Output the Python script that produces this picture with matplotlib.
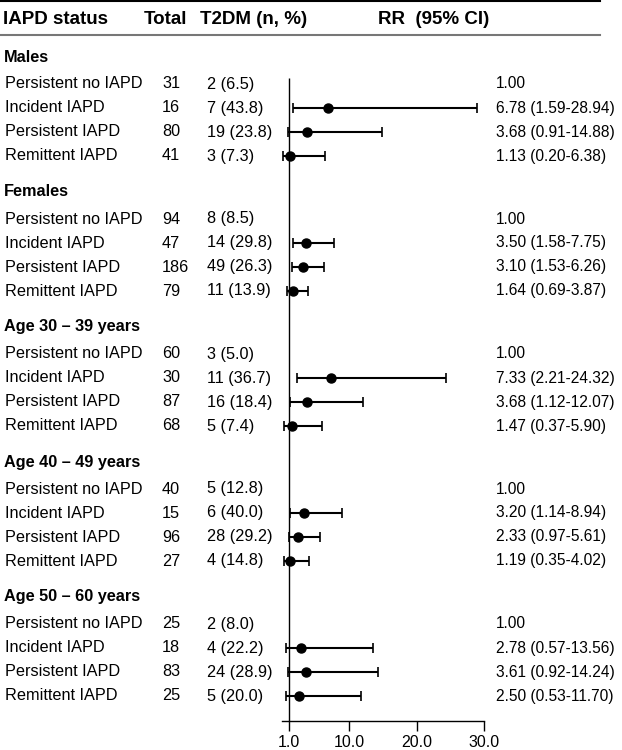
import matplotlib
matplotlib.use("Agg")
import matplotlib.pyplot as plt
import matplotlib.transforms as mtransforms

plt.rcParams['font.family'] = ['Liberation Sans', 'DejaVu Sans']

GROUPS = ["Males", "Females", "Age 30 \u2013 39 years", "Age 40 \u2013 49 years", "Age 50 \u2013 60 years"]
STATUS = ["Persistent no IAPD", "Incident IAPD", "Persistent IAPD", "Remittent IAPD"]

TOTALS = [
    [31, 16, 80, 41],
    [94, 47, 186, 79],
    [60, 30, 87, 68],
    [40, 15, 96, 27],
    [25, 18, 83, 25],
]
T2DM_N = [
    [2, 7, 19, 3],
    [8, 14, 49, 11],
    [3, 11, 16, 5],
    [5, 6, 28, 4],
    [2, 4, 24, 5],
]
T2DM_PCT = [
    [6.5, 43.8, 23.8, 7.3],
    [8.5, 29.8, 26.3, 13.9],
    [5.0, 36.7, 18.4, 7.4],
    [12.8, 40.0, 29.2, 14.8],
    [8.0, 22.2, 28.9, 20.0],
]
RR = [
    [1.00, 6.78, 3.68, 1.13],
    [1.00, 3.50, 3.10, 1.64],
    [1.00, 7.33, 3.68, 1.47],
    [1.00, 3.20, 2.33, 1.19],
    [1.00, 2.78, 3.61, 2.50],
]
CI_LOW = [
    [None, 1.59, 0.91, 0.20],
    [None, 1.58, 1.53, 0.69],
    [None, 2.21, 1.12, 0.37],
    [None, 1.14, 0.97, 0.35],
    [None, 0.57, 0.92, 0.53],
]
CI_HIGH = [
    [None, 28.94, 14.88, 6.38],
    [None, 7.75, 6.26, 3.87],
    [None, 24.32, 12.07, 5.90],
    [None, 8.94, 5.61, 4.02],
    [None, 13.56, 14.24, 11.70],
]
X_TICKS = [1, 10, 20, 30]
X_TICK_LABELS = ["1.0", "10.0", "20.0", "30.0"]

W, H = 622, 750
fig = plt.figure(figsize=(W / 100, H / 100), dpi=100)

# layout in pixel rows (top = 0)
AX_BOTTOM = 721
ax = fig.add_axes([282 / W, (H - AX_BOTTOM) / H, 202 / W, AX_BOTTOM / H])
ax.set_xlim(0, 30)
ax.set_ylim(AX_BOTTOM, 0)

# row positions
header_y = []
row_y = []
y = 57
for g in range(len(GROUPS)):
    header_y.append(y)
    y += 27
    ys = []
    for r in range(len(STATUS)):
        ys.append(y)
        if r < len(STATUS) - 1:
            y += 24
    row_y.append(ys)
    y += 36

# reference line at RR = 1
ax.vlines(1, 78, AX_BOTTOM, color="black", lw=1)

for g in range(len(GROUPS)):
    for r in range(len(STATUS)):
        if CI_LOW[g][r] is None:
            continue
        yy = row_y[g][r]
        lo, hi = CI_LOW[g][r], CI_HIGH[g][r]
        ax.errorbar(RR[g][r], yy, xerr=[[RR[g][r] - lo], [hi - RR[g][r]]],
                    fmt="o", color="black", ms=6.5, elinewidth=1.5,
                    capsize=3.3, capthick=1.2)

for s in ["top", "right", "left"]:
    ax.spines[s].set_visible(False)
ax.spines["bottom"].set_linewidth(1)
ax.set_yticks([])
ax.set_xticks(X_TICKS)
ax.set_xticklabels(X_TICK_LABELS, fontsize=11.5)
ax.tick_params(axis="x", length=7, width=1, pad=3)

# text columns: figure x (pixels / W), axes y (data)
trans = mtransforms.blended_transform_factory(fig.transFigure, ax.transData)
FS = 11.7

def put(xpx, yy, s, size=FS, **kw):
    fig.text(xpx / W, yy, s, transform=trans, va="center", fontsize=size, **kw)

for g, name in enumerate(GROUPS):
    put(4, header_y[g], name, fontweight="bold")
    for r, status in enumerate(STATUS):
        yy = row_y[g][r]
        put(5, yy, status)
        put(162, yy, str(TOTALS[g][r]))
        put(207, yy, f"{T2DM_N[g][r]} ({T2DM_PCT[g][r]:.1f})")
        if CI_LOW[g][r] is None:
            rr_txt = f"{RR[g][r]:.2f}"
        else:
            rr_txt = f"{RR[g][r]:.2f} ({CI_LOW[g][r]:.2f}-{CI_HIGH[g][r]:.2f})"
        put(496, yy, rr_txt, size=11.2)

# header
HFS = 13.5
HY = 1 - 19 / H
fig.text(3 / W, HY, "IAPD status", fontsize=HFS, fontweight="bold", va="center")
fig.text(144 / W, HY, "Total", fontsize=HFS, fontweight="bold", va="center")
fig.text(200 / W, HY, "T2DM (n, %)", fontsize=HFS, fontweight="bold", va="center")
fig.text(378 / W, HY, "RR  (95% CI)", fontsize=HFS, fontweight="bold", va="center")

fig.add_artist(plt.Line2D([0, 600 / W], [1 - 1 / H, 1 - 1 / H], color="black", lw=1.5))
fig.add_artist(plt.Line2D([0, 600 / W], [1 - 35 / H, 1 - 35 / H], color="#777777", lw=1.5))

fig.savefig("out.png", dpi=100)
